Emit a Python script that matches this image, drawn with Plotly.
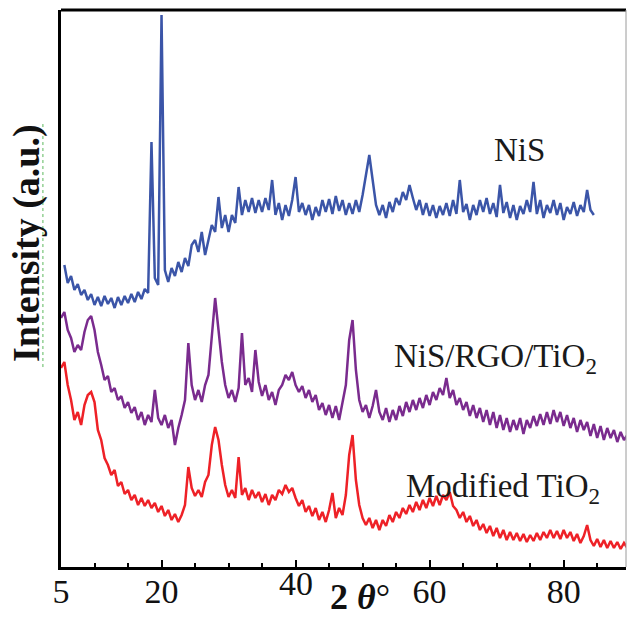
import plotly.graph_objects as go

# 2-theta scan angles (degrees)
two_theta = [
    5.0, 5.5, 6.0, 6.5, 7.0, 7.5, 8.0, 8.5, 9.0, 9.5,
    10.0, 10.5, 11.0, 11.5, 12.0, 12.5, 13.0, 13.5, 14.0, 14.5,
    15.0, 15.5, 16.0, 16.5, 17.0, 17.5, 18.0, 18.5, 19.0, 19.5,
    20.0, 20.5, 21.0, 21.5, 22.0, 22.5, 23.0, 23.5, 24.0, 24.5,
    25.0, 25.5, 26.0, 26.5, 27.0, 27.5, 28.0, 28.5, 29.0, 29.5,
    30.0, 30.5, 31.0, 31.5, 32.0, 32.5, 33.0, 33.5, 34.0, 34.5,
    35.0, 35.5, 36.0, 36.5, 37.0, 37.5, 38.0, 38.5, 39.0, 39.5,
    40.0, 40.5, 41.0, 41.5, 42.0, 42.5, 43.0, 43.5, 44.0, 44.5,
    45.0, 45.5, 46.0, 46.5, 47.0, 47.5, 48.0, 48.5, 49.0, 49.5,
    50.0, 50.5, 51.0, 51.5, 52.0, 52.5, 53.0, 53.5, 54.0, 54.5,
    55.0, 55.5, 56.0, 56.5, 57.0, 57.5, 58.0, 58.5, 59.0, 59.5,
    60.0, 60.5, 61.0, 61.5, 62.0, 62.5, 63.0, 63.5, 64.0, 64.5,
    65.0, 65.5, 66.0, 66.5, 67.0, 67.5, 68.0, 68.5, 69.0, 69.5,
    70.0, 70.5, 71.0, 71.5, 72.0, 72.5, 73.0, 73.5, 74.0, 74.5,
    75.0, 75.5, 76.0, 76.5, 77.0, 77.5, 78.0, 78.5, 79.0, 79.5,
    80.0, 80.5, 81.0, 81.5, 82.0, 82.5, 83.0, 83.5, 84.0, 84.5,
    85.0, 85.5, 86.0, 86.5, 87.0, 87.5, 88.0, 88.5, 89.0, 89.5,
]

# NiS pattern: 5.5 .. 84.5 deg
nis_theta = two_theta[1:160]
nis = [
    302, 284, 291, 277, 283, 272, 277, 267, 273,
    262, 270, 261, 271, 263, 269, 259, 270, 262, 271,
    264, 273, 265, 275, 268, 278, 274, 425, 289, 282,
    552, 297, 285, 299, 291, 305, 295, 309, 301, 322,
    327, 315, 335, 312, 327, 342, 335, 370, 339, 352,
    335, 352, 344, 380, 352, 367, 355, 369, 354, 367,
    355, 369, 357, 387, 352, 364, 347, 362, 351, 367,
    390, 355, 364, 352, 362, 347, 360, 351, 367, 355,
    368, 353, 371, 356, 367, 352, 364, 353, 367, 355,
    372, 392, 412, 387, 362, 352, 362, 349, 365, 355,
    369, 362, 375, 367, 382, 369, 357, 367, 352, 364,
    351, 362, 349, 361, 352, 364, 351, 367, 353, 387,
    355, 363, 347, 362, 352, 367, 355, 369, 353, 364,
    350, 382, 354, 365, 349, 362, 347, 361, 353, 367,
    355, 385, 353, 367, 349, 362, 354, 367, 352, 364,
    347, 360, 353, 365, 351, 362, 355, 377, 357, 352,
]

# NiS/RGO/TiO2 pattern: 5.0 .. 89.5 deg
nis_rgo_tio2 = [
    249, 255, 237, 229, 215, 222, 217, 235, 247, 251,
    237, 215, 202, 187, 191, 175, 179, 167, 171, 159,
    165, 154, 160, 147, 155, 142, 152, 145, 177, 149,
    142, 152, 139, 147, 122, 139, 152, 167, 224, 182,
    167, 177, 165, 182, 192, 232, 269, 237, 205, 182,
    169, 177, 165, 179, 234, 182, 189, 175, 217, 185,
    171, 182, 167, 175, 162, 177, 182, 192, 187, 195,
    182, 175, 181, 169, 177, 165, 172, 157, 164, 152,
    162, 149, 161, 147, 165, 182, 227, 247, 197, 167,
    155, 162, 149, 161, 177, 155, 147, 159, 145, 157,
    147, 161, 151, 165, 155, 167, 157, 169, 159, 172,
    162, 175, 167, 179, 172, 189, 169, 177, 162, 169,
    157, 165, 151, 162, 149, 159, 145, 157, 142, 155,
    139, 152, 137, 149, 135, 147, 137, 149, 133, 147,
    139, 151, 141, 153, 142, 155, 143, 157, 145, 155,
    141, 152, 139, 149, 135, 147, 137, 145, 131, 143,
    129, 141, 127, 139, 129, 137, 125, 135, 127, 132,
]

# Modified TiO2 pattern: 5.0 .. 89.5 deg
modified_tio2 = [
    199, 205, 182, 167, 147, 155, 142, 162, 172, 175,
    165, 137, 127, 109, 102, 92, 97, 81, 85, 73,
    77, 67, 72, 62, 69, 61, 67, 59, 64, 55,
    61, 51, 57, 47, 53, 45, 52, 62, 100, 79,
    71, 77, 70, 85, 92, 122, 140, 127, 102, 82,
    70, 77, 69, 110, 72, 79, 67, 77, 69, 75,
    65, 73, 62, 72, 67, 77, 73, 82, 75, 79,
    69, 61, 67, 55, 61, 51, 59, 47, 55, 45,
    57, 74, 49, 59, 52, 72, 112, 132, 87, 62,
    49, 42, 49, 39, 47, 37, 47, 41, 52, 45,
    55, 49, 59, 53, 62, 55, 65, 57, 67, 59,
    69, 61, 71, 62, 72, 67, 75, 61, 57, 49,
    55, 45, 51, 41, 47, 37, 43, 34, 41, 31,
    39, 29, 37, 27, 35, 27, 34, 26, 33, 25,
    32, 26, 34, 27, 35, 29, 37, 29, 36, 28,
    37, 29, 35, 26, 33, 24, 31, 42, 27, 21,
    28, 20, 27, 19, 26, 19, 25, 18, 24, 19,
]

x_tick_vals = [5, 20, 40, 60, 80]
x_tick_text = ["5", "20", " ", "60", "80"]

SERIF = "Liberation Serif, Times New Roman, serif"

fig = go.Figure()
fig.add_trace(go.Scatter(x=nis_theta, y=nis, mode="lines", name="NiS",
                         line=dict(color="#3B55A8", width=2.5)))
fig.add_trace(go.Scatter(x=two_theta, y=nis_rgo_tio2, mode="lines", name="NiS/RGO/TiO2",
                         line=dict(color="#7A2B8E", width=2.5)))
fig.add_trace(go.Scatter(x=two_theta, y=modified_tio2, mode="lines", name="Modified TiO2",
                         line=dict(color="#EE2127", width=2.5)))

fig.update_layout(
    width=627, height=619,
    margin=dict(l=61, r=1, t=10, b=52),
    plot_bgcolor="white", paper_bgcolor="white",
    showlegend=False,
    xaxis=dict(
        range=[5, 89.3], showgrid=False, zeroline=False,
        showline=True, linecolor="black", linewidth=3,
        ticks="inside", ticklen=7, tickwidth=2, tickcolor="black",
        tickvals=x_tick_vals, ticktext=x_tick_text,
        ticklabelstandoff=-8,
        tickfont=dict(family=SERIF, size=34, color="#111"),
        minor=dict(dtick=5, tick0=0, ticks="inside", ticklen=4,
                   tickwidth=1.5, tickcolor="black"),
    ),
    yaxis=dict(
        range=[0, 557], showgrid=False, zeroline=False,
        showline=True, linecolor="black", linewidth=3,
        showticklabels=False, ticks="",
    ),
    shapes=[
        dict(type="line", xref="paper", yref="paper", x0=0, x1=1, y0=1, y1=1,
             line=dict(color="black", width=3)),
        dict(type="line", xref="paper", yref="paper", x0=1, x1=1, y0=0, y1=1,
             line=dict(color="#9a9a9a", width=1)),
        dict(type="line", xref="paper", yref="paper", x0=-0.032, x1=-0.032,
             y0=0.359, y1=0.797, line=dict(color="#5cb85c", width=1, dash="dot")),
    ],
    annotations=[
        dict(text="<b>Intensity (a.u.)</b>", xref="paper", yref="paper",
             x=-0.060, y=0.582, textangle=-90, showarrow=False,
             xanchor="center", yanchor="middle",
             font=dict(family=SERIF, size=38, color="#111")),
        dict(text="<b>2 <i>θ</i></b>°", xref="x", yref="paper",
             x=49.6, y=-0.054, showarrow=False, xanchor="center", yanchor="middle",
             font=dict(family=SERIF, size=36, color="#111")),
        dict(text="40", xref="x", yref="paper", x=40, y=-0.0305,
             showarrow=False, xanchor="center", yanchor="middle",
             font=dict(family=SERIF, size=34, color="#111")),
        dict(text="NiS", xref="x", yref="y", x=73.4, y=417, showarrow=False,
             xanchor="center", yanchor="middle",
             font=dict(family=SERIF, size=33, color="#1a1a1a")),
        dict(text="NiS/RGO/TiO<sub>2</sub>", xref="x", yref="y", x=54.4, y=209,
             showarrow=False, xanchor="left", yanchor="middle",
             font=dict(family=SERIF, size=33, color="#1a1a1a")),
        dict(text="Modified TiO<sub>2</sub>", xref="x", yref="y", x=56.2, y=79,
             showarrow=False, xanchor="left", yanchor="middle",
             font=dict(family=SERIF, size=33, color="#1a1a1a")),
    ],
)

fig.write_html("out.html", config={"displayModeBar": False},
               post_script="document.body.style.margin='0px';")
